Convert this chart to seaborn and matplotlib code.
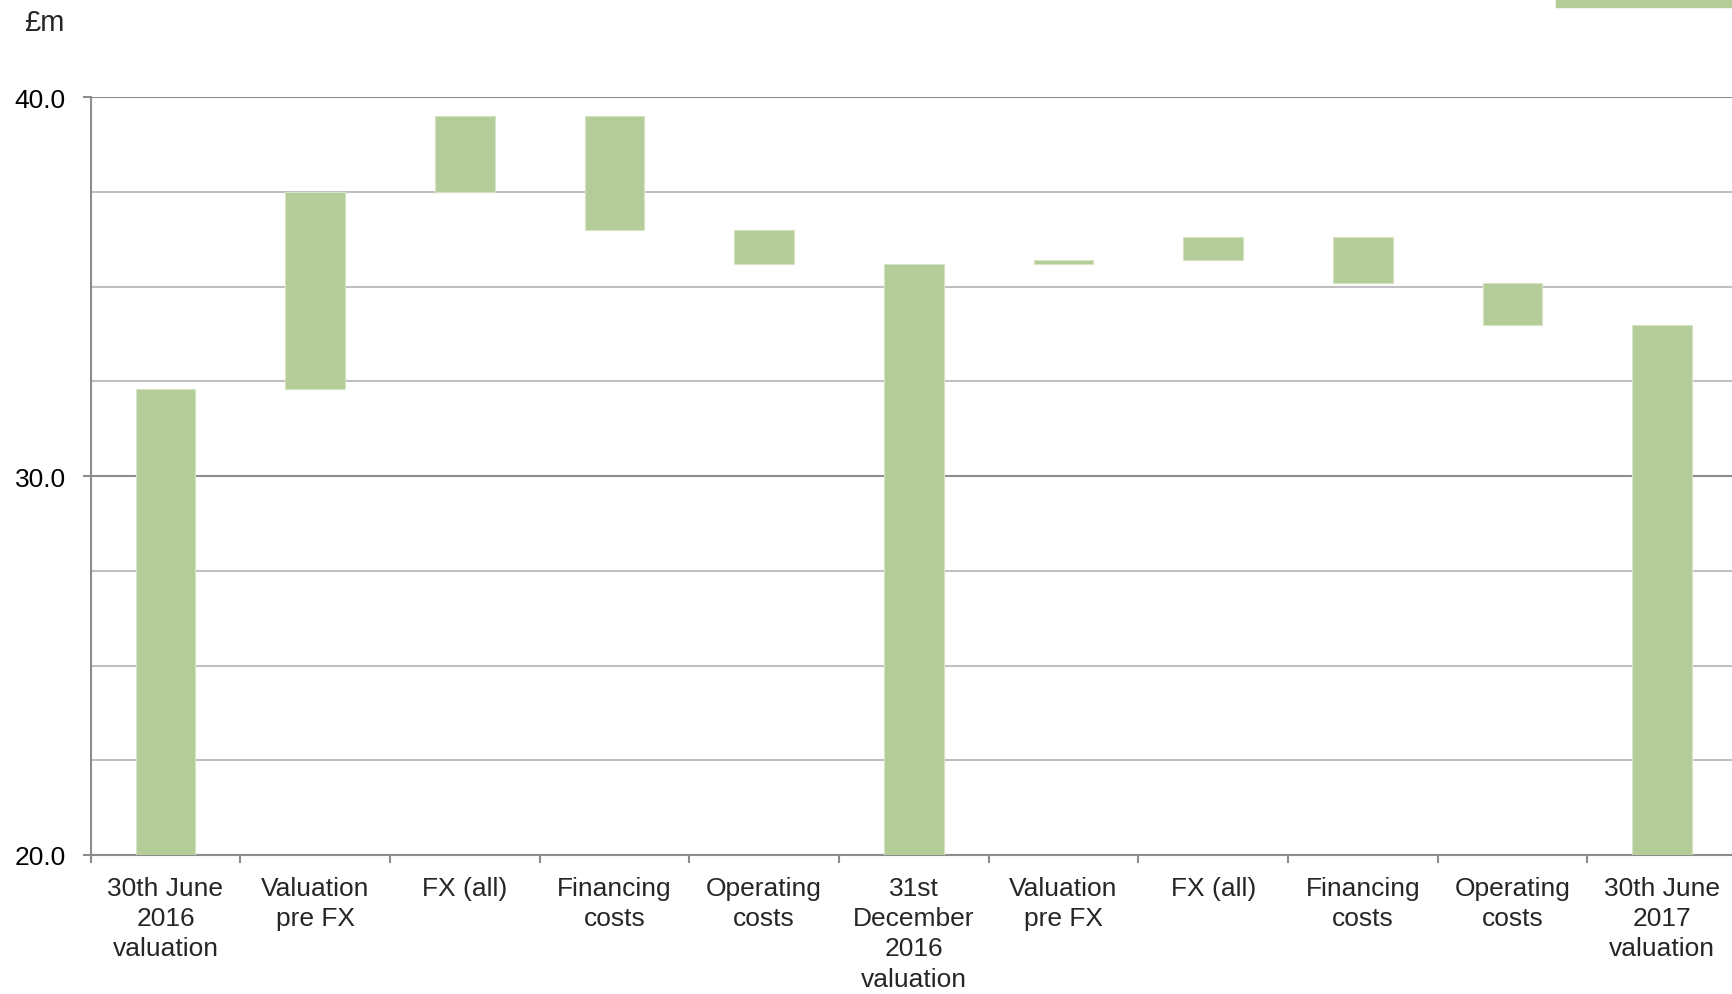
import numpy as np
import pandas as pd
import matplotlib
matplotlib.use("Agg")
import matplotlib.pyplot as plt
from matplotlib.ticker import MultipleLocator, FormatStrFormatter
from matplotlib.patches import Rectangle
import seaborn as sns

# Datos del puente de valoración (£m)
etiquetas = ["30th June\n2016\nvaluation", "Valuation\npre FX", "FX (all)", "Financing\ncosts",
             "Operating\ncosts", "31st\nDecember\n2016\nvaluation", "Valuation\npre FX", "FX (all)",
             "Financing\ncosts", "Operating\ncosts", "30th June\n2017\nvaluation"]
valores = [32.3, 5.2, 2.0, -3.0, -0.9, 35.6, 0.1, 0.6, -1.2, -1.1, 34.0]
es_total = [True, False, False, False, False, True, False, False, False, False, True]

# Calcular base y altura de cada barra flotante
bases, alturas = [], []
acumulado = 0.0
for v, tot in zip(valores, es_total):
    if tot:
        acumulado = v
        bases.append(0.0)
        alturas.append(v)
    else:
        nuevo = acumulado + v
        bases.append(min(acumulado, nuevo))
        alturas.append(abs(v))
        acumulado = nuevo

df = pd.DataFrame({"paso": [f"p{i}" for i in range(len(valores))], "altura": alturas})

sns.set_style("white")
plt.rcParams['font.family'] = ['Liberation Sans', 'DejaVu Sans']

fig = plt.figure(figsize=(17.33, 9.95), dpi=100)
ax = fig.add_axes([0.0523, 0.1397, 0.950, 0.7615])

color_barra = "#B4CC97"
sns.barplot(data=df, x="paso", y="altura", bottom=bases, color=color_barra,
            width=0.4, saturation=1, edgecolor="#D6E4C6", linewidth=0.8, ax=ax, zorder=3)

ax.set_ylim(20, 40)
ax.set_xlim(-0.5, len(valores) - 0.5)

# Eje Y: etiquetas cada 10, rejilla cada 2.5
ax.yaxis.set_major_locator(MultipleLocator(10))
ax.yaxis.set_minor_locator(MultipleLocator(2.5))
ax.yaxis.set_major_formatter(FormatStrFormatter("%.1f"))
ax.grid(axis="y", which="major", color="#8C8C8C", linewidth=1.5, zorder=0)
ax.grid(axis="y", which="minor", color="#C0C0C0", linewidth=1.5, zorder=0)
ax.grid(axis="x", visible=False)
ax.set_axisbelow(True)
ax.tick_params(axis="y", which="major", length=6, width=1.5, color="#8C8C8C",
               pad=12, labelsize=19, labelcolor="black", left=True)
ax.tick_params(axis="y", which="minor", length=0)

# Eje X: marcas en los límites de categoría, etiquetas centradas
ax.set_xticks(np.arange(-0.5, len(valores), 1))
ax.set_xticklabels([])
ax.set_xticks(np.arange(len(valores)), minor=True)
ax.set_xticklabels(etiquetas, minor=True, fontsize=19, linespacing=1.33)
ax.tick_params(axis="x", which="major", length=6, width=1.5, color="#8C8C8C", bottom=True)
ax.tick_params(axis="x", which="minor", length=0, pad=15)
ax.set_xlabel("")
ax.set_ylabel("")

for lado in ["top", "right"]:
    ax.spines[lado].set_visible(False)
for lado in ["left", "bottom"]:
    ax.spines[lado].set_color("#8C8C8C")
    ax.spines[lado].set_linewidth(1.5)

fig.text(24 / 1733, 1 - 23 / 995, "£m", fontsize=21, ha="left", va="center")

# Resto de la leyenda recortada arriba a la derecha
fig.patches.append(Rectangle((1556 / 1733, 1 - 8 / 995), 0.2, 0.02,
                             transform=fig.transFigure, color=color_barra, zorder=5))

fig.savefig("out.png", dpi=100)
plt.close(fig)
